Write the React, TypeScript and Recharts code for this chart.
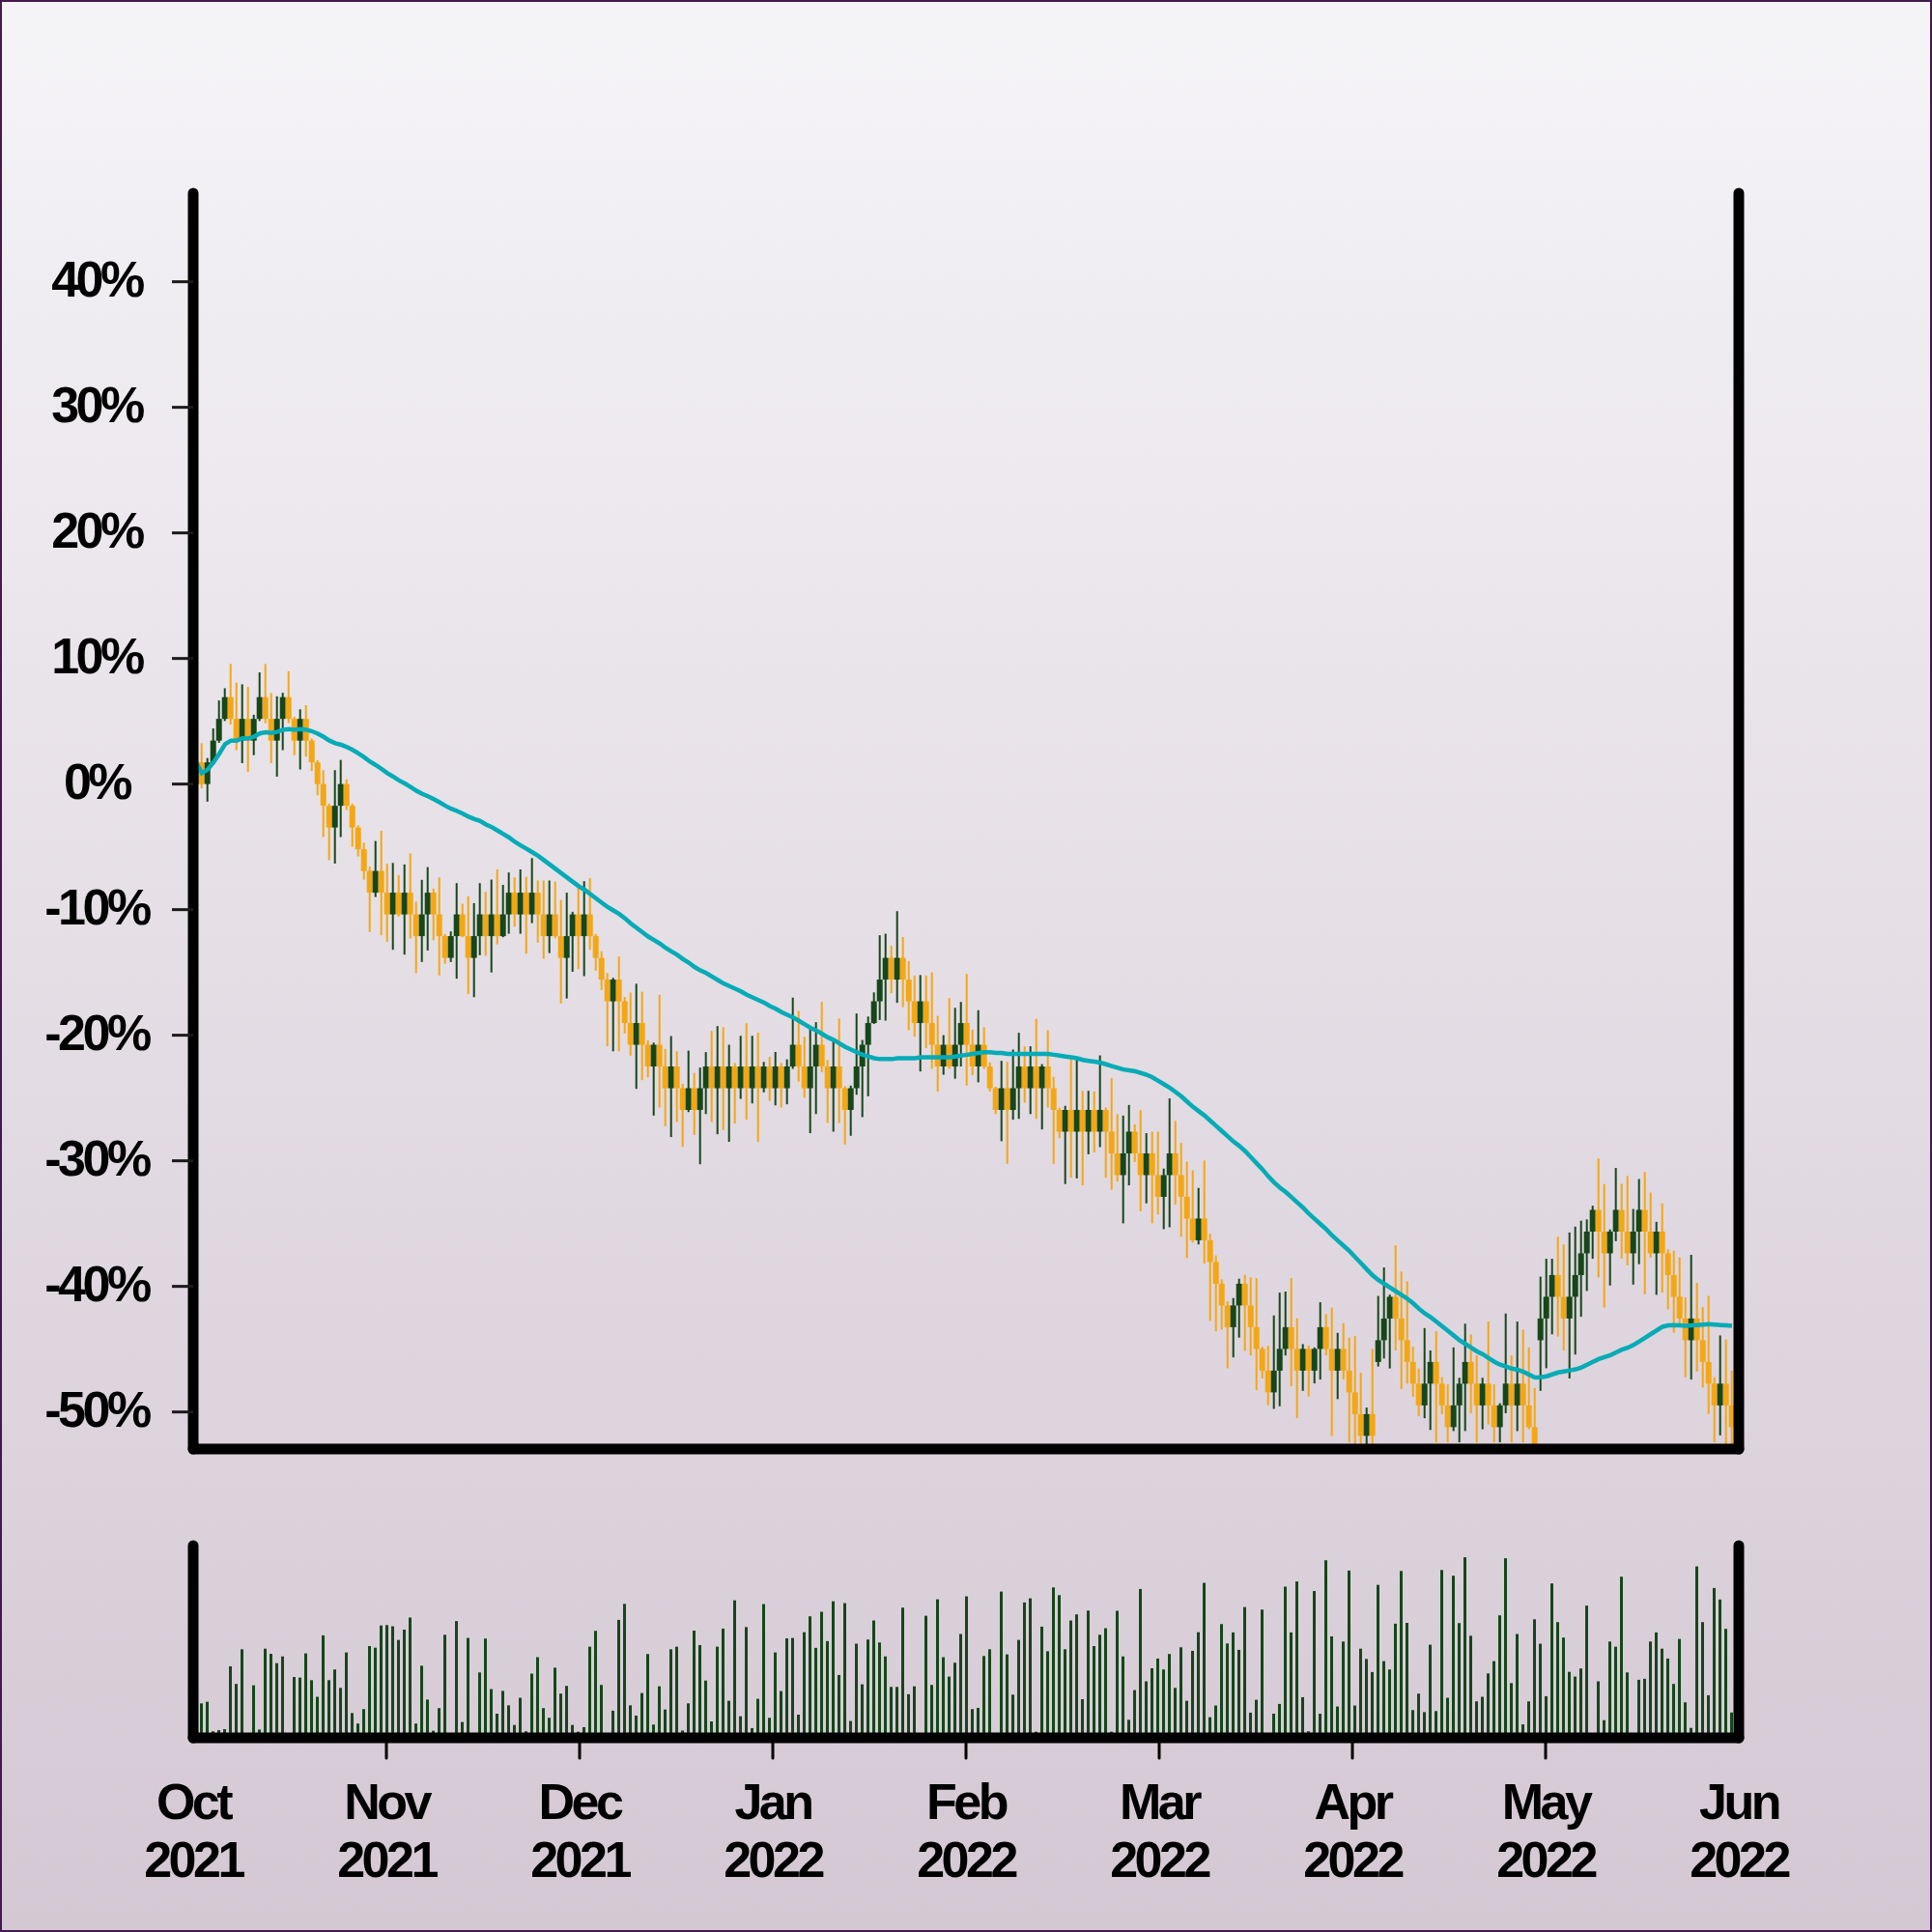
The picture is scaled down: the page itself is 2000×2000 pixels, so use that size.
import React from "react";
import { ComposedChart, Bar, Line, XAxis, YAxis } from "recharts";

// price moves in steps of ~1.73% from the starting price; values below are in steps
const PT = 1.73;

const OPEN = [
  0, 1, 0, 1, 2, 3, 4, 3, 2, 3,
  2, 3, 4, 3, 2, 3, 4, 3, 2, 3,
  2, 1, 0, -1, -2, -1, 0, -1, -2, -3,
  -4, -5, -4, -5, -6, -5, -6, -5, -6, -7,
  -6, -5, -6, -7, -8, -7, -6, -7, -8, -7,
  -6, -7, -6, -7, -6, -5, -6, -5, -6, -5,
  -6, -7, -6, -7, -8, -7, -6, -7, -6, -7,
  -8, -9, -10, -9, -10, -11, -12, -11, -12, -13,
  -12, -13, -14, -13, -14, -15, -14, -15, -14, -13,
  -14, -13, -14, -13, -14, -13, -14, -13, -14, -13,
  -14, -13, -14, -13, -12, -13, -14, -13, -12, -13,
  -14, -13, -14, -15, -14, -13, -12, -11, -10, -9,
  -8, -9, -8, -9, -10, -11, -10, -11, -12, -13,
  -12, -13, -12, -11, -12, -13, -12, -13, -14, -15,
  -14, -15, -14, -13, -14, -13, -14, -13, -14, -15,
  -16, -15, -16, -15, -16, -15, -16, -15, -16, -17,
  -18, -17, -16, -17, -18, -17, -18, -19, -18, -17,
  -18, -19, -20, -21, -20, -21, -22, -23, -24, -25,
  -24, -23, -24, -25, -26, -27, -28, -27, -26, -25,
  -26, -27, -26, -27, -26, -25, -26, -27, -26, -27,
  -28, -29, -30, -29, -26.6, -25.6, -24.6, -23.6, -24.6, -25.6,
  -26.6, -27.6, -28.6, -27.6, -26.6, -27.6, -28.6, -29.6, -28.6, -27.6,
  -26.6, -27.6, -28.6, -27.6, -28.6, -29.6, -28.6, -27.6, -28.6, -27.6,
  -28.6, -29.6, -25.6, -24.6, -23.6, -22.6, -23.6, -24.6, -23.6, -22.6,
  -21.6, -20.6, -19.6, -20.6, -21.6, -20.6, -19.6, -20.6, -21.6, -20.6,
  -19.6, -20.6, -21.6, -20.6, -21.6, -22.6, -23.6, -24.6, -25.6, -24.6,
  -25.6, -26.6, -27.6, -28.6, -27.6, -28.6,
];

const CLOSE = [
  1, 0, 1, 2, 3, 4, 3, 2, 3, 2,
  3, 4, 3, 2, 3, 4, 3, 2, 3, 2,
  1, 0, -1, -2, -1, 0, -1, -2, -3, -4,
  -5, -4, -5, -6, -5, -6, -5, -6, -7, -6,
  -5, -6, -7, -8, -7, -6, -7, -8, -7, -6,
  -7, -6, -7, -6, -5, -6, -5, -6, -5, -6,
  -7, -6, -7, -8, -7, -6, -7, -6, -7, -8,
  -9, -10, -9, -10, -11, -12, -11, -12, -13, -12,
  -13, -14, -13, -14, -15, -14, -15, -14, -13, -14,
  -13, -14, -13, -14, -13, -14, -13, -14, -13, -14,
  -13, -14, -13, -12, -13, -14, -13, -12, -13, -14,
  -13, -14, -15, -14, -13, -12, -11, -10, -9, -8,
  -9, -8, -9, -10, -11, -10, -11, -12, -13, -12,
  -13, -12, -11, -12, -13, -12, -13, -14, -15, -14,
  -15, -14, -13, -14, -13, -14, -13, -14, -15, -16,
  -15, -16, -15, -16, -15, -16, -15, -16, -17, -18,
  -17, -16, -17, -18, -17, -18, -19, -18, -17, -18,
  -19, -20, -21, -20, -21, -22, -23, -24, -25, -24,
  -23, -24, -25, -26, -27, -28, -27, -26, -25, -26,
  -27, -26, -27, -26, -25, -26, -27, -26, -27, -28,
  -29, -30, -29, -30, -25.6, -24.6, -23.6, -24.6, -25.6, -26.6,
  -27.6, -28.6, -27.6, -26.6, -27.6, -28.6, -29.6, -28.6, -27.6, -26.6,
  -27.6, -28.6, -27.6, -28.6, -29.6, -28.6, -27.6, -28.6, -27.6, -28.6,
  -29.6, -30.6, -24.6, -23.6, -22.6, -23.6, -24.6, -23.6, -22.6, -21.6,
  -20.6, -19.6, -20.6, -21.6, -20.6, -19.6, -20.6, -21.6, -20.6, -19.6,
  -20.6, -21.6, -20.6, -21.6, -22.6, -23.6, -24.6, -25.6, -24.6, -25.6,
  -26.6, -27.6, -28.6, -27.6, -28.6, -29.6,
];

const HIGH = [
  1.5, 1.88, 1.2, 2.56, 3.85, 4.41, 5.53, 4.67, 4.59, 4.47,
  3.19, 5.14, 5.53, 4.19, 4.04, 4.2, 5.19, 3.1, 3.44, 3.63,
  2.1, 1.1, 0.64, -0.9, 0.64, 1.11, 0.22, -0.9, -1.9, -2.7,
  -3.8, -2.62, -2.15, -3.67, -3.63, -4.19, -3.7, -3.19, -5.41, -4.41,
  -3.82, -4.81, -4.3, -6.9, -6.78, -4.56, -5.51, -5.16, -5.48, -4.56,
  -4.96, -4.4, -3.93, -4.64, -4.07, -4.3, -3.93, -4.27, -3.41, -4.44,
  -4.44, -4.44, -4.49, -5.33, -5.0, -5.88, -4.7, -4.47, -4.33, -6.9,
  -7.7, -8.7, -8.92, -7.93, -9.8, -9.6, -9.19, -9.56, -11.8, -11.9,
  -9.7, -12.19, -11.6, -12.3, -13.8, -12.27, -13.3, -13.05, -12.34, -11.36,
  -11.14, -11.19, -12.0, -12.84, -11.59, -11.01, -11.59, -11.44, -12.79, -12.55,
  -12.33, -12.84, -12.67, -9.83, -10.44, -11.63, -11.26, -10.96, -10.03, -12.7,
  -11.78, -10.79, -13.9, -13.88, -10.56, -11.78, -10.7, -9.59, -6.96, -6.89,
  -7.45, -5.85, -7.04, -8.15, -8.81, -8.79, -8.81, -8.67, -10.67, -11.56,
  -9.85, -10.3, -10.03, -8.74, -11.3, -10.41, -11.19, -12.81, -13.93, -12.74,
  -12.79, -12.22, -11.45, -12.07, -12.07, -10.81, -12.89, -11.33, -13.48, -14.9,
  -14.81, -12.67, -12.67, -14.12, -14.12, -14.15, -12.49, -14.89, -13.53, -15.2,
  -15.26, -14.77, -15.66, -15.01, -16.07, -16.0, -16.0, -17.7, -14.47, -15.5,
  -16.52, -17.38, -17.78, -18.59, -17.33, -20.7, -21.7, -22.8, -23.8, -23.66,
  -22.77, -22.59, -22.71, -22.74, -25.9, -25.85, -24.46, -23.41, -23.36, -22.74,
  -24.59, -25.78, -25.85, -25.93, -23.85, -24.4, -24.1, -25.26, -24.81, -25.48,
  -25.41, -27.1, -28.7, -26.0, -23.56, -22.25, -23.5, -21.23, -22.44, -22.89,
  -25.9, -26.9, -25.04, -26.07, -25.19, -27.3, -27.63, -25.93, -27.33, -24.84,
  -25.33, -26.3, -27.33, -24.74, -27.63, -28.5, -24.37, -26.3, -24.74, -25.11,
  -25.93, -27.8, -22.67, -21.85, -21.85, -20.84, -21.19, -20.64, -20.37, -20.1,
  -20.04, -19.41, -17.23, -18.41, -20.5, -17.67, -18.4, -18.04, -19.56, -18.18,
  -17.85, -18.8, -20.15, -19.3, -21.41, -21.48, -21.78, -23.63, -21.67, -22.96,
  -24.07, -23.56, -27.3, -25.38, -25.56, -27.0,
];

const LOW = [
  -0.3, -0.2, -0.81, 0.9, 1.9, 2.9, 2.74, 1.56, 0.96, 0.56,
  1.33, 2.9, 2.8, 0.96, 0.34, 1.56, 2.8, 1.33, 0.67, 1.26,
  0.6, -0.52, -2.44, -3.51, -3.66, -2.44, -1.2, -2.89, -3.33, -4.4,
  -6.81, -5.2, -6.96, -7.26, -7.63, -6.1, -7.85, -7.11, -8.7, -8.19,
  -7.66, -7.19, -8.81, -8.27, -8.19, -8.96, -7.05, -9.67, -9.81, -7.88,
  -7.9, -8.67, -7.38, -7.05, -6.89, -6.56, -6.89, -7.81, -6.4, -7.3,
  -8.04, -7.78, -7.1, -10.1, -9.87, -8.64, -8.52, -8.84, -7.63, -8.59,
  -9.48, -12.07, -12.3, -12.3, -11.48, -12.5, -14.03, -13.63, -13.5, -15.26,
  -14.89, -15.75, -16.25, -15.56, -16.7, -15.1, -16.15, -17.5, -15.19, -15.56,
  -16.12, -15.93, -16.47, -15.63, -14.49, -15.45, -14.7, -16.47, -14.19, -14.59,
  -14.79, -14.89, -14.74, -13.11, -13.7, -14.44, -16.07, -15.19, -13.26, -15.6,
  -16.0, -15.6, -16.59, -16.19, -14.3, -15.33, -14.37, -11.04, -10.86, -10.89,
  -9.63, -10.07, -10.27, -11.33, -11.63, -13.23, -12.15, -13.11, -14.15, -13.38,
  -13.11, -13.56, -13.0, -13.88, -13.4, -13.73, -13.11, -14.15, -15.19, -16.44,
  -17.48, -15.45, -15.41, -14.67, -15.19, -15.41, -15.9, -14.89, -17.48, -16.3,
  -18.41, -18.12, -18.15, -18.47, -17.04, -16.96, -16.71, -18.12, -18.67, -18.3,
  -20.22, -18.47, -17.4, -19.67, -19.3, -20.22, -19.81, -20.49, -20.4, -19.36,
  -20.84, -21.82, -21.11, -21.19, -22.07, -24.71, -25.19, -25.11, -26.89, -26.39,
  -25.48, -26.09, -26.3, -27.9, -27.36, -28.59, -28.76, -28.64, -26.3, -27.72,
  -29.19, -27.93, -28.19, -27.59, -27.41, -26.3, -30.0, -28.31, -27.4, -30.3,
  -30.5, -31, -31, -31, -26.81, -26.44, -26.9, -26.07, -27.85, -27.6,
  -28.2, -29.1, -29.19, -29.73, -30.3, -29.0, -30.3, -29.78, -30.3, -29.78,
  -28.96, -30.3, -29.7, -29.48, -30.3, -30.3, -28.96, -30.3, -29.78, -30.3,
  -29.7, -31, -27.93, -26.89, -25.33, -25.43, -26.07, -27.36, -26.26, -24.52,
  -23.33, -21.85, -22.71, -24.1, -23.08, -21.04, -21.85, -22.15, -23.04, -22.1,
  -23.48, -21.8, -23.51, -23.41, -24.18, -25.26, -24.9, -27.3, -27.41, -27.04,
  -27.78, -28.99, -30.3, -29.98, -30.5, -31,
];

const VOLUME = [
  20,
  17.4, 18.2, 3.3, 3.9, 4.4, 36.1, 27.2, 44.7, 0, 26.5,
  4.2, 45.0, 42.4, 37.7, 41.1, 0, 30.7, 30.4, 42.6, 29.1,
  20.7, 51.7, 29.1, 34.5, 25.2, 43.1, 12.5, 7.2, 14.5, 46.3,
  45.5, 56.7, 56.9, 56.3, 49.4, 54.6, 60.7, 7.2, 36.4, 19.3,
  3.6, 15.0, 52.0, 0, 58.9, 8.0, 50.4, 0, 33.0, 50.1,
  24.6, 12.2, 23.7, 16.4, 6.5, 20.2, 3.3, 32.4, 40.7, 15.0,
  10.1, 35.4, 22.3, 26.2, 6.5, 3.1, 5.4, 46.0, 54.0, 26.7,
  0, 13.7, 59.5, 67.6, 16.4, 11.2, 22.6, 42.3, 6.7, 26.0,
  14.3, 44.7, 46.0, 3.7, 17.4, 54.1, 46.8, 28.9, 8.3, 46.0,
  55.1, 18.7, 69.4, 10.9, 55.9, 4.9, 19.7, 67.5, 10.1, 43.1,
  23.6, 50.2, 50.4, 11.7, 53.3, 61.3, 45.4, 63.6, 48.8, 68.9,
  31.7, 68.0, 8.5, 47.5, 27.0, 49.6, 59.2, 48.1, 41.1, 25.7,
  25.7, 65.7, 22.0, 26.0, 0, 61.6, 26.7, 69.9, 40.7, 30.9,
  37.9, 52.4, 71.4, 14.5, 15.1, 41.3, 44.7, 0, 73.8, 42.1,
  21.8, 49.4, 68.3, 70.4, 3.1, 56.1, 43.7, 75.9, 72.0, 44.7,
  59.2, 62.3, 19.5, 64.2, 46.3, 52.0, 55.3, 3.1, 64.1, 41.1,
  9.1, 24.1, 75.1, 28.5, 35.1, 40.0, 34.5, 42.3, 25.2, 45.7,
  18.7, 43.9, 53.3, 78.2, 10.4, 16.3, 57.4, 47.6, 53.2, 44.4,
  66.0, 12.7, 19.2, 64.7, 0, 12.2, 17.1, 76.3, 53.2, 78.9,
  20.5, 3.3, 74.1, 12.2, 89.6, 51.2, 15.8, 48.6, 84.4, 16.3,
  45.0, 39.8, 33.2, 77.2, 38.7, 34.5, 57.6, 84.2, 58.0, 14.0,
  22.3, 13.0, 47.0, 13.5, 84.7, 20.2, 81.8, 57.9, 91.1, 51.5,
  18.4, 20.7, 32.5, 38.7, 61.8, 90.6, 27.6, 52.4, 6.8, 18.4,
  59.8, 47.5, 21.0, 77.9, 58.4, 50.6, 33.3, 30.9, 35.0, 66.7,
  0, 28.5, 8.9, 48.6, 46.0, 81.3, 33.0, 0, 29.3, 29.8,
  48.6, 53.2, 45.0, 40.0, 27.2, 49.9, 17.9, 5.0, 86.5, 58.4,
  21.5, 75.6, 69.8, 55.0, 12.8,
];

const MONTHS = ["Oct", "Nov", "Dec", "Jan", "Feb", "Mar", "Apr", "May", "Jun"];
const YEARS = ["2021", "2021", "2021", "2022", "2022", "2022", "2022", "2022", "2022"];
const Y_TICKS = [40, 30, 20, 10, 0, -10, -20, -30, -40, -50];

// the session axis: each month tick sits one third of a hundred sessions apart
const SESSIONS_PER_MONTH = 100 / 3;
const X_MAX = 8 * SESSIONS_PER_MONTH;
const MONTH_TICKS = MONTHS.map((_, k) => k * SESSIONS_PER_MONTH);

const GREEN = "#16461a";
const ORANGE = "#f4a714";
const TEAL = "#05abb6";
const FONT = '"Liberation Sans", Arial, Helvetica, sans-serif';
const MA_WINDOW = 50;

const AXIS_LINE = { stroke: "#000", strokeWidth: 11, strokeLinecap: "round" as const };

const closePct = CLOSE.map((v) => v * PT);
const data = OPEN.map((o, i) => {
  const win = closePct.slice(Math.max(0, i - MA_WINDOW + 1), i + 1);
  return {
    x: i + 0.5,
    open: o * PT,
    close: closePct[i],
    high: HIGH[i] * PT,
    low: LOW[i] * PT,
    range: [LOW[i] * PT, HIGH[i] * PT],
    ma: win.reduce((a, b) => a + b, 0) / win.length,
    vol: VOLUME[i],
  };
});

function Candle(props: any) {
  const { x, y, width, height, payload } = props;
  if (!payload || height == null) return null;
  const { open, close, high, low } = payload;
  const top = Math.min(y, y + height);
  const bottom = Math.max(y, y + height);
  const toY = (v: number) => top + ((high - v) / (high - low)) * (bottom - top);
  const color = close >= open ? GREEN : ORANGE;
  const cx = x + width / 2;
  const b1 = toY(Math.max(open, close));
  const b2 = toY(Math.min(open, close));
  return (
    <g>
      <line x1={cx} x2={cx} y1={top} y2={bottom} stroke={color} strokeWidth={2} />
      <rect x={cx - 3} y={b1} width={6} height={b2 - b1} fill={color} />
    </g>
  );
}

const labelStyle = {
  fontFamily: FONT,
  fontWeight: 700,
  fontSize: 52,
  letterSpacing: -3.5,
  fill: "#000",
};

function YTick(props: any) {
  const { y, payload } = props;
  return (
    <text x={100} y={y + 15} textAnchor="middle" style={labelStyle}>
      {`${payload.value}%`}
    </text>
  );
}

function MonthTick(props: any) {
  const { x, payload, index } = props;
  const k = index ?? Math.round(payload.value / SESSIONS_PER_MONTH);
  return (
    <g>
      {k > 0 && k < 8 && (
        <line x1={x} x2={x} y1={1800} y2={1820} stroke="#000" strokeWidth={3} strokeLinecap="round" />
      )}
      <text x={x} y={1883} textAnchor="middle" style={labelStyle}>
        {MONTHS[k]}
      </text>
      <text x={x} y={1943} textAnchor="middle" style={labelStyle}>
        {YEARS[k]}
      </text>
    </g>
  );
}

export default function App() {
  return (
    <div
      style={{
        position: "relative",
        width: 2000,
        height: 2000,
        background: "linear-gradient(to bottom, #f5f4f7, #d4c8d3)",
        overflow: "hidden",
      }}
    >
      <style>{`body{margin:0}`}</style>

      {/* candles + moving average */}
      <div style={{ position: "absolute", left: 0, top: 0 }}>
        <ComposedChart
          width={2000}
          height={1550}
          data={data}
          margin={{ top: 200, right: 0, bottom: 0, left: 0 }}
        >
          <Bar yAxisId="left" dataKey="range" barSize={6} shape={<Candle />} isAnimationActive={false} />
          <Line
            yAxisId="left"
            dataKey="ma"
            type="linear"
            stroke={TEAL}
            strokeWidth={4.5}
            dot={false}
            activeDot={false}
            isAnimationActive={false}
          />
          <XAxis
            dataKey="x"
            type="number"
            domain={[0, X_MAX]}
            allowDataOverflow
            height={50}
            tick={false}
            tickLine={false}
            axisLine={AXIS_LINE}
          />
          <YAxis
            yAxisId="left"
            width={200}
            type="number"
            domain={[-52.95, 47.05]}
            allowDataOverflow
            ticks={Y_TICKS}
            interval={0}
            tickSize={22}
            tickLine={{ stroke: "#1a1a1a", strokeWidth: 3 }}
            axisLine={AXIS_LINE}
            tick={<YTick />}
          />
          <YAxis
            yAxisId="right"
            orientation="right"
            width={200}
            type="number"
            domain={[0, 1]}
            tick={false}
            tickLine={false}
            axisLine={AXIS_LINE}
          />
        </ComposedChart>
      </div>

      {/* volume */}
      <div style={{ position: "absolute", left: 0, top: 0 }}>
        <ComposedChart
          width={2000}
          height={2000}
          data={data}
          margin={{ top: 1600, right: 0, bottom: 0, left: 0 }}
        >
          <Bar dataKey="vol" fill={GREEN} barSize={3} isAnimationActive={false} />
          <XAxis
            dataKey="x"
            type="number"
            domain={[0, X_MAX]}
            allowDataOverflow
            ticks={MONTH_TICKS}
            interval={0}
            height={201}
            tickLine={false}
            axisLine={AXIS_LINE}
            tick={<MonthTick />}
          />
          <YAxis
            width={200}
            type="number"
            domain={[0, 97]}
            allowDataOverflow
            tick={false}
            tickLine={false}
            axisLine={AXIS_LINE}
          />
          <YAxis
            yAxisId="right"
            orientation="right"
            width={200}
            type="number"
            domain={[0, 1]}
            tick={false}
            tickLine={false}
            axisLine={AXIS_LINE}
          />
        </ComposedChart>
      </div>

      <div
        style={{
          position: "absolute",
          inset: 0,
          border: "2px solid #43194f",
          boxSizing: "border-box",
          pointerEvents: "none",
        }}
      />
    </div>
  );
}
